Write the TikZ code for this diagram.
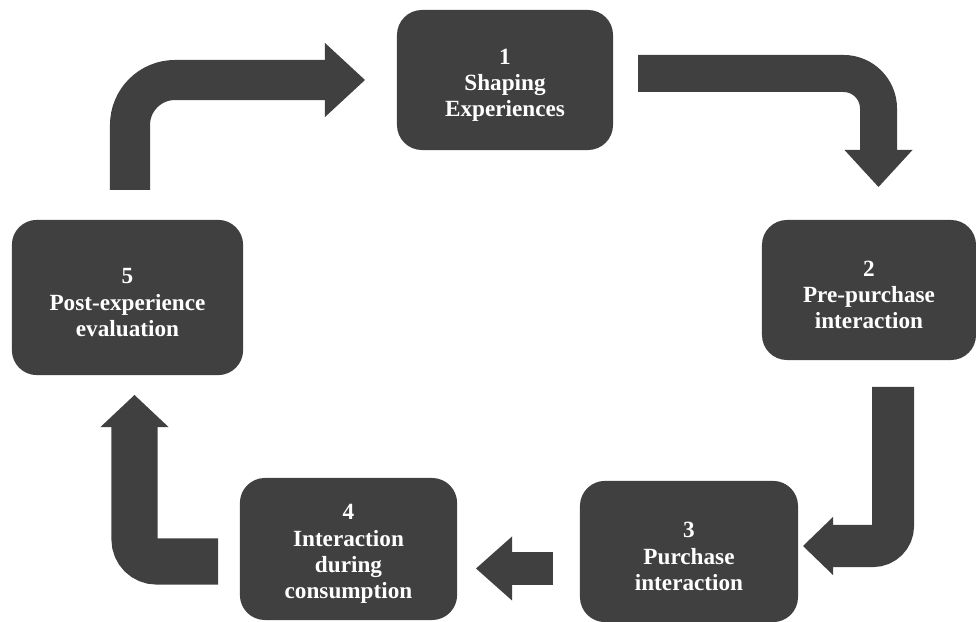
\documentclass[tikz,border=0pt]{standalone}
\usepackage{fontspec}
\setmainfont{Liberation Serif}
\usetikzlibrary{arrows.meta,positioning}
\definecolor{stagegray}{HTML}{404040}
\newcommand{\topgap}{\rule{0pt}{18pt}}

\tikzset{
  stage/.style={fill=stagegray,text=white,rounded corners=0.625cm,
    align=center,font=\fontsize{16.5}{18.6}\selectfont\bfseries,
    inner sep=0pt},
  flow/.style={draw=stagegray,line cap=butt},
}

\begin{document}
\begin{tikzpicture}[x=0.025cm,y=-0.025cm]
    \useasboundingbox (0,0) rectangle (976,622);

    % stages of the experience cycle
    \node[stage,minimum width=5.4cm,minimum height=3.5cm] (s1) at (505,80)
      {\topgap 1\\Shaping\\Experiences};
    \node[stage,minimum width=5.35cm,minimum height=3.5cm] (s2) at (869,290)
      {\topgap 2\\Pre-purchase\\interaction};
    \node[stage,minimum width=5.45cm,minimum height=3.53cm] (s3) at (689,551.5)
      {\topgap 3\\Purchase\\interaction};
    \node[stage,minimum width=5.43cm,minimum height=3.55cm] (s4) at (348.5,549)
      {\topgap 4\\Interaction\\during\\consumption};
    \node[stage,minimum width=5.78cm,minimum height=3.88cm] (s5) at (127.5,297.5)
      {\topgap 5\\Post-experience\\evaluation};

    % arrow ends
    \coordinate (f1a) at (130,190);   \coordinate (f1b) at (365,80);
    \coordinate (f2a) at (638,73.5);  \coordinate (f2b) at (878.5,187);
    \coordinate (f3a) at (893,387);   \coordinate (f3b) at (803,546);
    \coordinate (f4a) at (553,568.5); \coordinate (f4b) at (476,568.5);
    \coordinate (f5a) at (218,561.5); \coordinate (f5b) at (134.5,395);

    \draw[flow,line width=1cm,rounded corners=1.125cm,
      -{Triangle[length=1cm,width=1.85cm,line width=0pt]}] (f1a) |- (f1b);
    \draw[flow,line width=0.925cm,rounded corners=0.875cm,
      -{Triangle[length=0.925cm,width=1.7cm,line width=0pt]}] (f2a) -| (f2b);
    \draw[flow,line width=1.05cm,rounded corners=0.5cm,
      -{Triangle[length=0.75cm,width=1.45cm,line width=0pt]}] (f3a) |- (f3b);
    \draw[flow,line width=0.825cm,
      -{Triangle[length=0.9cm,width=1.6cm,line width=0pt]}] (f4a) -- (f4b);
    \draw[flow,line width=1.15cm,rounded corners=0.55cm,
      -{Triangle[length=0.8cm,width=1.7cm,line width=0pt]}] (f5a) -| (f5b);
\end{tikzpicture}
\end{document}
